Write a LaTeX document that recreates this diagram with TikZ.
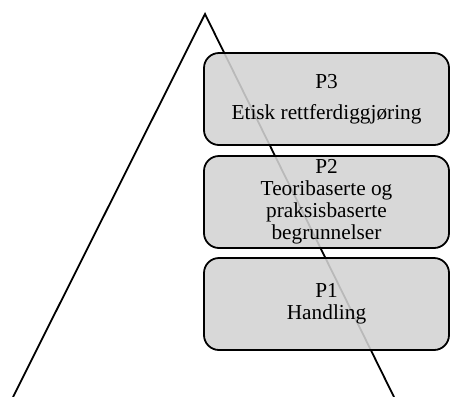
\documentclass[tikz,border=0pt]{standalone}
\usepackage{fontspec}
\setmainfont{Liberation Serif}
\begin{document}
\begin{tikzpicture}[x=1bp,y=-1bp,
  level/.style={draw=black, line width=1.8bp, fill={rgb,255:red,211;green,211;blue,211},
    fill opacity=0.88, text opacity=1, rounded corners=15bp,
    minimum width=245bp, minimum height=92bp, inner sep=0pt, align=center,
    font=\fontsize{21.3bp}{22bp}\selectfont},
  side/.style={line width=1.8bp}]
\useasboundingbox (0,0) rectangle (450,396);
% pyramid outline
\coordinate (apex) at (205,14);
\coordinate (bl) at (13,397);
\coordinate (br) at (394,397);
\draw[side] (bl) -- (apex) -- (br);
% the three levels
\node[level] (p3) at (326.5,99) {P3\\[9bp]Etisk rettferdiggjøring};
\node[level] (p2) at (326.5,202) {P2\\Teoribaserte og\\praksisbaserte\\begrunnelser};
\node[level] (p1) at (326.5,304) {P1\\Handling};
\end{tikzpicture}
\end{document}
